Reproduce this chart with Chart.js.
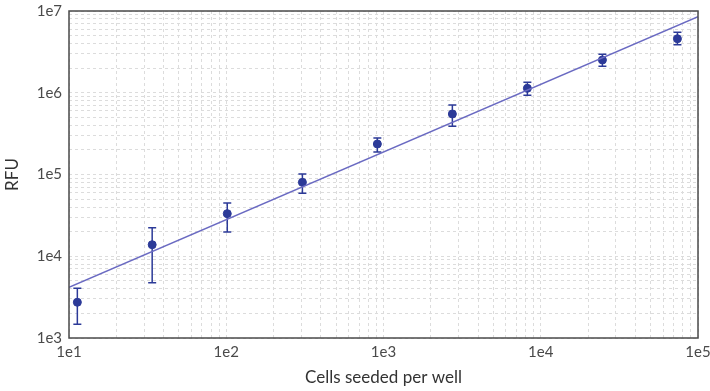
<!DOCTYPE html>
<html>
<head>
<meta charset="utf-8">
<script src="https://cdn.jsdelivr.net/npm/chart.js@4/dist/chart.umd.min.js"></script>
<style>
  html, body { margin: 0; padding: 0; background: #ffffff; }
  #wrap { width: 710px; height: 391px; position: relative; }
</style>
</head>
<body>
<div id="wrap"><canvas id="c" width="710" height="391"></canvas></div>
<script>
// ---- data ----
const cells    = [11.3, 33.8, 101.5, 305, 914, 2741, 8222, 24667, 74000];
const rfu      = [2735, 13840, 33200, 80200, 236000, 550000, 1133000, 2517000, 4580000];
const rfuLow   = [1472, 4740, 19800, 58900, 188500, 389000, 931000, 2108000, 3870000];
const rfuHigh  = [4055, 22300, 44800, 101500, 280000, 708000, 1342000, 2953000, 5480000];
const fitX     = [10, 100000];
const fitY     = [4170, 8500000];
const xTickValues = [10, 100, 1000, 10000, 100000];
const xTickLabels = ['1e1', '1e2', '1e3', '1e4', '1e5'];
const yTickValues = [1000, 10000, 100000, 1000000, 10000000];
const yTickLabels = ['1e3', '1e4', '1e5', '1e6', '1e7'];

const POINT_COLOR = '#2c3a98';
const FIT_COLOR = '#6a6ac2';
const GRID_COLOR = '#dcdcdc';
const TEXT_COLOR = '#4a4a4a';

function logTicks(majors) {
  const out = [];
  for (let i = 0; i < majors.length - 1; i++) {
    for (let m = 1; m <= 9; m++) out.push({ value: majors[i] * m });
  }
  out.push({ value: majors[majors.length - 1] });
  return out;
}
function labelFor(values, labels, v) {
  for (let i = 0; i < values.length; i++) {
    if (Math.abs(v - values[i]) / values[i] < 1e-9) return labels[i];
  }
  return '';
}

const errorBars = {
  id: 'errorBars',
  beforeDatasetsDraw(chart) {
    const ctx = chart.ctx, xs = chart.scales.x, ys = chart.scales.y;
    ctx.save();
    ctx.strokeStyle = POINT_COLOR;
    ctx.lineWidth = 1.5;
    for (let i = 0; i < cells.length; i++) {
      const px = xs.getPixelForValue(cells[i]);
      const pLo = ys.getPixelForValue(rfuLow[i]);
      const pHi = ys.getPixelForValue(rfuHigh[i]);
      ctx.beginPath();
      ctx.moveTo(px, pLo); ctx.lineTo(px, pHi);
      ctx.moveTo(px - 4, pLo); ctx.lineTo(px + 4, pLo);
      ctx.moveTo(px - 4, pHi); ctx.lineTo(px + 4, pHi);
      ctx.stroke();
    }
    ctx.restore();
  }
};
const frame = {
  id: 'frame',
  afterDraw(chart) {
    const a = chart.chartArea, ctx = chart.ctx;
    ctx.save();
    ctx.strokeStyle = '#4a4a4a';
    ctx.lineWidth = 1.5;
    ctx.strokeRect(a.left, a.top, a.right - a.left, a.bottom - a.top);
    ctx.restore();
  }
};

new Chart(document.getElementById('c'), {
  type: 'scatter',
  data: {
    datasets: [
      {
        type: 'line',
        label: 'Fit',
        data: fitX.map((x, i) => ({ x: x, y: fitY[i] })),
        borderColor: FIT_COLOR,
        borderWidth: 1.5,
        pointRadius: 0,
        fill: false,
        tension: 0
      },
      {
        label: 'RFU',
        data: cells.map((x, i) => ({ x: x, y: rfu[i] })),
        backgroundColor: POINT_COLOR,
        borderColor: POINT_COLOR,
        pointRadius: 4,
        pointHoverRadius: 4
      }
    ]
  },
  options: {
    responsive: false,
    animation: false,
    devicePixelRatio: 1,
    layout: { padding: { top: 11, right: 12, left: 0, bottom: 0 } },
    plugins: { legend: { display: false }, tooltip: { enabled: false } },
    scales: {
      x: {
        type: 'logarithmic',
        min: 10, max: 100000,
        afterBuildTicks: (axis) => { axis.ticks = logTicks(xTickValues); },
        afterFit: (axis) => {
          axis.height = 53;
          axis.paddingLeft = 0; axis.paddingRight = 0;
          axis.paddingTop = 0; axis.paddingBottom = 0;
        },
        grid: { color: GRID_COLOR, lineWidth: 1, drawTicks: false },
        border: { display: false, dash: [3, 3] },
        ticks: {
          autoSkip: false, maxRotation: 0, padding: 5,
          color: TEXT_COLOR,
          font: { family: 'Lato', size: 15 },
          callback: (v) => labelFor(xTickValues, xTickLabels, v)
        },
        title: {
          display: true, text: 'Cells seeded per well',
          color: '#333333',
          font: { family: 'Lato', size: 17 },
          padding: { top: 0, bottom: 3 }
        }
      },
      y: {
        type: 'logarithmic',
        min: 1000, max: 10000000,
        afterBuildTicks: (axis) => { axis.ticks = logTicks(yTickValues); },
        afterFit: (axis) => {
          axis.width = 69;
          axis.paddingLeft = 0; axis.paddingRight = 0;
          axis.paddingTop = 0; axis.paddingBottom = 0;
        },
        grid: { color: GRID_COLOR, lineWidth: 1, drawTicks: false },
        border: { display: false, dash: [3, 3] },
        ticks: {
          autoSkip: false, padding: 7,
          color: TEXT_COLOR,
          font: { family: 'Lato', size: 15 },
          callback: (v) => labelFor(yTickValues, yTickLabels, v)
        },
        title: {
          display: true, text: 'RFU',
          color: '#333333',
          font: { family: 'Lato', size: 17 },
          padding: { top: 2, bottom: 0 }
        }
      }
    }
  },
  plugins: [errorBars, frame]
});
</script>
</body>
</html>
